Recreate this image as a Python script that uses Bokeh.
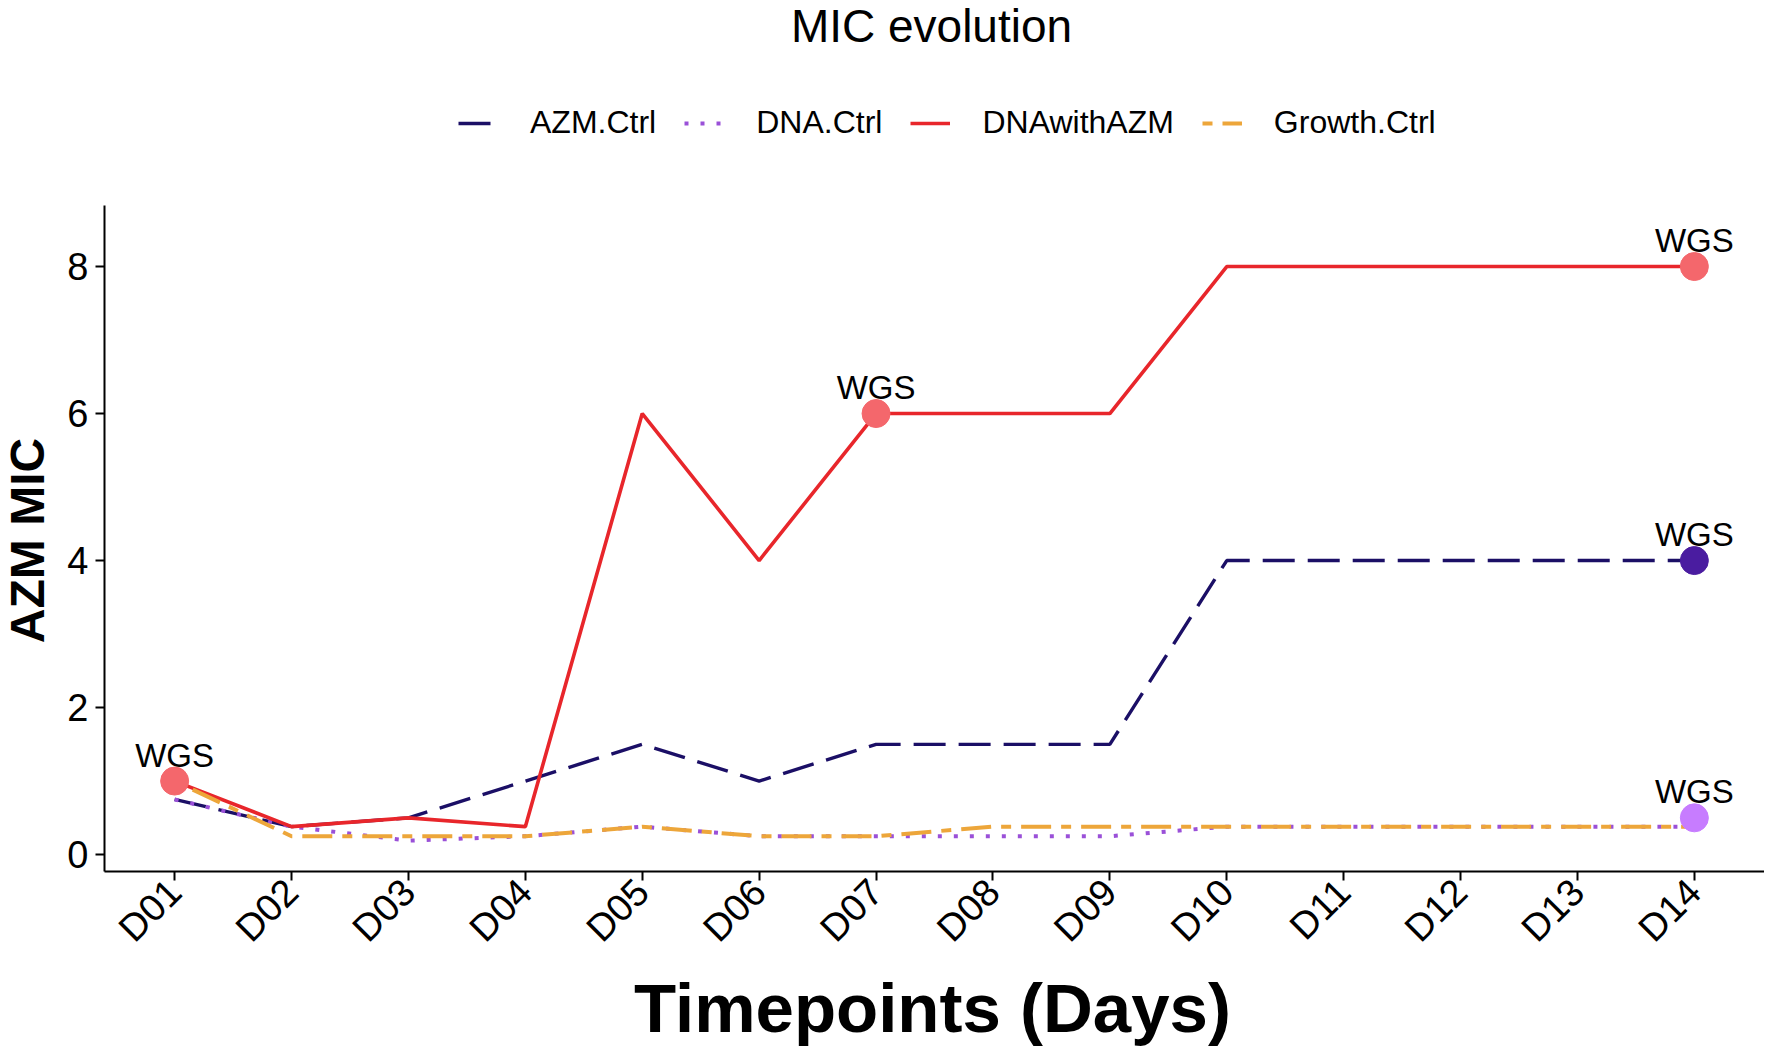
import math
from bokeh.plotting import figure
from bokeh.models import Range1d, FixedTicker, Label, Legend, LegendItem, ColumnDataSource
from bokeh.embed import file_html
from bokeh.resources import INLINE
from bokeh.core.properties import value

# ---- data ----
days = ["D01", "D02", "D03", "D04", "D05", "D06", "D07",
        "D08", "D09", "D10", "D11", "D12", "D13", "D14"]
day_index = list(range(1, 15))

azm_ctrl     = [0.75, 0.38, 0.5, 1.0, 1.5, 1.0, 1.5, 1.5, 1.5, 4, 4, 4, 4, 4]
dna_ctrl     = [0.75, 0.38, 0.19, 0.25, 0.38, 0.25, 0.25, 0.25, 0.25, 0.38, 0.38, 0.38, 0.38, 0.38]
dna_with_azm = [1.0, 0.38, 0.5, 0.38, 6, 4, 6, 6, 6, 8, 8, 8, 8, 8]
growth_ctrl  = [1.0, 0.25, 0.25, 0.25, 0.38, 0.25, 0.25, 0.38, 0.38, 0.38, 0.38, 0.38, 0.38, 0.38]

wgs_day   = [1, 7, 14, 14, 14]
wgs_value = [1.0, 6, 8, 4, 0.5]
wgs_group = ["DNAwithAZM", "DNAwithAZM", "DNAwithAZM", "AZM.Ctrl", "DNA.Ctrl"]
wgs_text  = ["WGS", "WGS", "WGS", "WGS", "WGS"]

y_ticks = [0, 2, 4, 6, 8]

FONT = "Liberation Sans"
point_colors = {"DNAwithAZM": "#F4676C", "AZM.Ctrl": "#4A1CA0", "DNA.Ctrl": "#C77CFF"}

# ---- layout geometry (pixels in the canvas) ----
W, H = 1764, 1049
PX_L, PX_R = 104, 1764     # panel left/right
PY_T, PY_B = 205, 871      # panel top/bottom
X0, X1 = 0.4, 14.6         # panel data extent (x)
Y0, Y1 = -0.23, 8.83       # panel data extent (y)

sx = (PX_R - PX_L) / (X1 - X0)
sy = (PY_B - PY_T) / (Y1 - Y0)
x_range = Range1d(X0 - PX_L / sx, X1 + (W - PX_R) / sx)
y_range = Range1d(Y0 - (H - PY_B) / sy, Y1 + PY_T / sy)

p = figure(width=W, height=H, x_range=x_range, y_range=y_range,
           output_backend="svg", toolbar_location=None,
           min_border_left=0, min_border_right=0,
           min_border_top=0, min_border_bottom=0)
p.xgrid.visible = False
p.ygrid.visible = False
p.outline_line_color = None
p.background_fill_color = "white"
p.border_fill_color = "white"

for ax in (p.xaxis[0], p.yaxis[0]):
    ax.axis_line_color = "black"
    ax.axis_line_width = 2
    ax.major_tick_line_color = "black"
    ax.major_tick_line_width = 2
    ax.major_tick_out = 9
    ax.major_tick_in = 0
    ax.minor_tick_out = 0
    ax.minor_tick_in = 0
    ax.major_label_text_font = FONT
    ax.major_label_text_color = "black"

p.xaxis.fixed_location = Y0
p.xaxis.bounds = (X0, X1)
p.xaxis.ticker = FixedTicker(ticks=day_index)
p.xaxis.major_label_overrides = {i: d for i, d in zip(day_index, days)}
p.xaxis.major_label_orientation = math.pi / 4
p.xaxis.major_label_text_font_size = "38px"
p.xaxis.major_label_standoff = 5

p.yaxis.fixed_location = X0
p.yaxis.bounds = (Y0, Y1)
p.yaxis.ticker = FixedTicker(ticks=y_ticks)
p.yaxis.major_label_text_font_size = "38px"
p.yaxis.major_label_standoff = 7

r_azm = p.line(day_index, azm_ctrl, line_color="#1B0F66", line_width=3.4, line_dash="32 13")
r_dna = p.line(day_index, dna_ctrl, line_color="#9A50D8", line_width=4, line_dash="4 12")
r_red = p.line(day_index, dna_with_azm, line_color="#E8262B", line_width=3.6)
r_gro = p.line(day_index, growth_ctrl, line_color="#EDA63A", line_width=4, line_dash="10 10 30 10")

src = ColumnDataSource(dict(x=wgs_day, y=wgs_value, t=wgs_text,
                            c=[point_colors[g] for g in wgs_group]))
p.scatter("x", "y", source=src, size=28, fill_color="c", line_color="c")
p.text("x", "y", text="t", source=src, text_align="center", text_baseline="alphabetic",
       y_offset=-26, text_font=value(FONT), text_font_size="33px", text_color="black")

legend = Legend(items=[LegendItem(label="AZM.Ctrl", renderers=[r_azm]),
                       LegendItem(label="DNA.Ctrl", renderers=[r_dna]),
                       LegendItem(label="DNAwithAZM", renderers=[r_red]),
                       LegendItem(label="Growth.Ctrl", renderers=[r_gro])],
                orientation="horizontal", location=(458, H - 141),
                glyph_width=40, glyph_height=30, label_standoff=32, spacing=28,
                padding=0, margin=0, border_line_alpha=0, background_fill_alpha=0,
                label_text_font=FONT, label_text_font_size="32px", label_text_color="black")
p.add_layout(legend)

# titles (screen units, measured from the canvas bottom-left)
p.add_layout(Label(x=931, y=H - 25, x_units="screen", y_units="screen", text="MIC evolution",
                   text_align="center", text_baseline="alphabetic",
                   text_font=FONT, text_font_size="46px", text_color="black"))
p.add_layout(Label(x=932, y=H - 1008, x_units="screen", y_units="screen", text="Timepoints (Days)",
                   text_align="center", text_baseline="middle", text_font_style="bold",
                   text_font=FONT, text_font_size="69px", text_color="black"))
p.add_layout(Label(x=27, y=H - 540, x_units="screen", y_units="screen", text="AZM MIC",
                   angle=math.pi / 2, text_align="center", text_baseline="middle",
                   text_font_style="bold", text_font=FONT, text_font_size="48px", text_color="black"))

open("out.html", "w").write(file_html(p, INLINE))
